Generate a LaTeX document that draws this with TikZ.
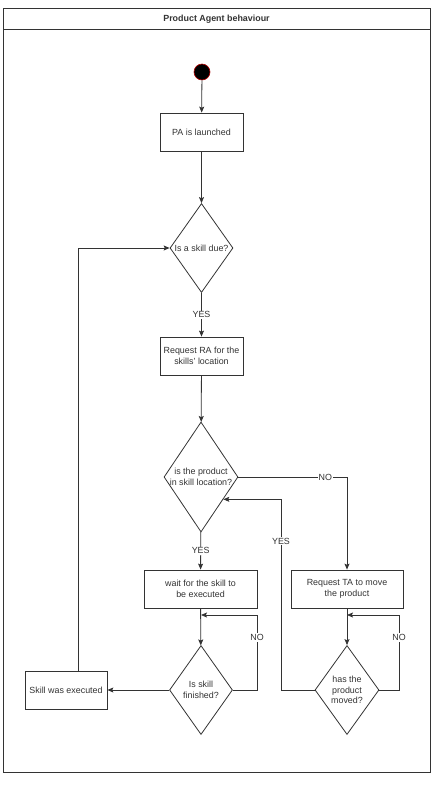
\documentclass[tikz,border=0pt]{standalone}
\usepackage{fontspec}
\setmainfont{Liberation Sans}
\usetikzlibrary{shapes.geometric,arrows.meta,calc}
\definecolor{ln}{HTML}{333333}
\definecolor{tx}{HTML}{333333}
\tikzset{
  box/.style={draw=ln,line width=0.8pt,rectangle,inner sep=1pt,align=center,text=tx,font=\fontsize{8.9}{10.7}\selectfont},
  dia/.style={draw=ln,line width=0.8pt,diamond,inner sep=0pt},
  dtxt/.style={align=center,text=tx,font=\fontsize{8.9}{10.7}\selectfont,inner sep=0pt},
  arr/.style={draw=ln,line width=0.8pt,-{Stealth[length=6pt,width=5pt,inset=1.2pt]}},
  ln/.style={draw=ln,line width=0.8pt},
  elbl/.style={fill=white,text=tx,font=\fontsize{8.9}{10.7}\selectfont,inner sep=1pt}
}
\begin{document}
\begin{tikzpicture}[x=1pt,y=-1pt]
\useasboundingbox (0,0) rectangle (435,785);
% frame
\draw[ln] (3,8) rectangle (430,772);
\draw[ln] (3,29) -- (430,29);
\node[text=tx,font=\bfseries\fontsize{8.9}{10.7}\selectfont] (title) at (216.5,19) {Product Agent behaviour};
% start
\node[circle,fill=black,draw=red!70!black,line width=0.6pt,minimum size=16pt,inner sep=0pt] (start) at (202,72) {};
% nodes
\node[box,minimum width=83pt,minimum height=38pt] (pa) at (201.5,132) {PA is launched};
\node[dia,minimum width=63pt,minimum height=89pt] (d1) at (201.5,248) {};
\node[dtxt] (d1t) at (d1) {Is a skill due?};
\node[box,minimum width=83pt,minimum height=38pt] (ra) at (201.5,356) {Request RA for the\\skills' location};
\node[dia,minimum width=74pt,minimum height=110pt] (d2) at (201,477) {};
\node[dtxt] (d2t) at (d2) {is the product\\in skill location?};
\node[box,minimum width=113pt,minimum height=38pt] (wait) at (200.5,589) {wait for the skill to\\be executed};
\node[box,minimum width=112pt,minimum height=38pt] (ta) at (347,589) {Request TA to move\\the product};
\node[dia,minimum width=63pt,minimum height=89pt] (d3) at (201,690) {};
\node[dtxt] (d3t) at (d3) {Is skill\\finished?};
\node[dia,minimum width=64pt,minimum height=89pt] (d4) at (347,690) {};
\node[dtxt] (d4t) at (d4) {has the\\product\\moved?};
\node[box,minimum width=82pt,minimum height=38pt] (se) at (66,690) {Skill was executed};
% helper coordinates
\coordinate (yc) at (281,0);
\coordinate (n1) at (257,615);
\coordinate (n2) at (399,615);
% connectors
\draw[arr] (start) -- (pa);
\draw[arr] (pa) -- (d1);
\draw[arr] (d1) -- node[elbl]{YES} (ra);
\draw[arr] (ra) -- (d2);
\draw[arr] (d2) -- node[elbl]{YES} (wait);
\draw[arr] (d2.east) -| node[elbl,pos=0.4]{NO} (ta.north);
\draw[arr] (d4.west) -| node[elbl,pos=0.89]{YES} (yc |- d2.-45) -- (d2.-45);
\draw[arr] (wait) -- (d3);
\draw[arr] (ta) -- (d4);
\draw[arr] (d3.west) -- (se.east);
\draw[arr] ([xshift=12]se.north) |- (d1.west);
\draw[arr] (d3.east) -| node[elbl,pos=0.85]{NO} (n1) -- (n1 -| d3.north);
\draw[arr] (d4.east) -| node[elbl,pos=0.85]{NO} (n2) -- (n2 -| d4.north);
\end{tikzpicture}
\end{document}
